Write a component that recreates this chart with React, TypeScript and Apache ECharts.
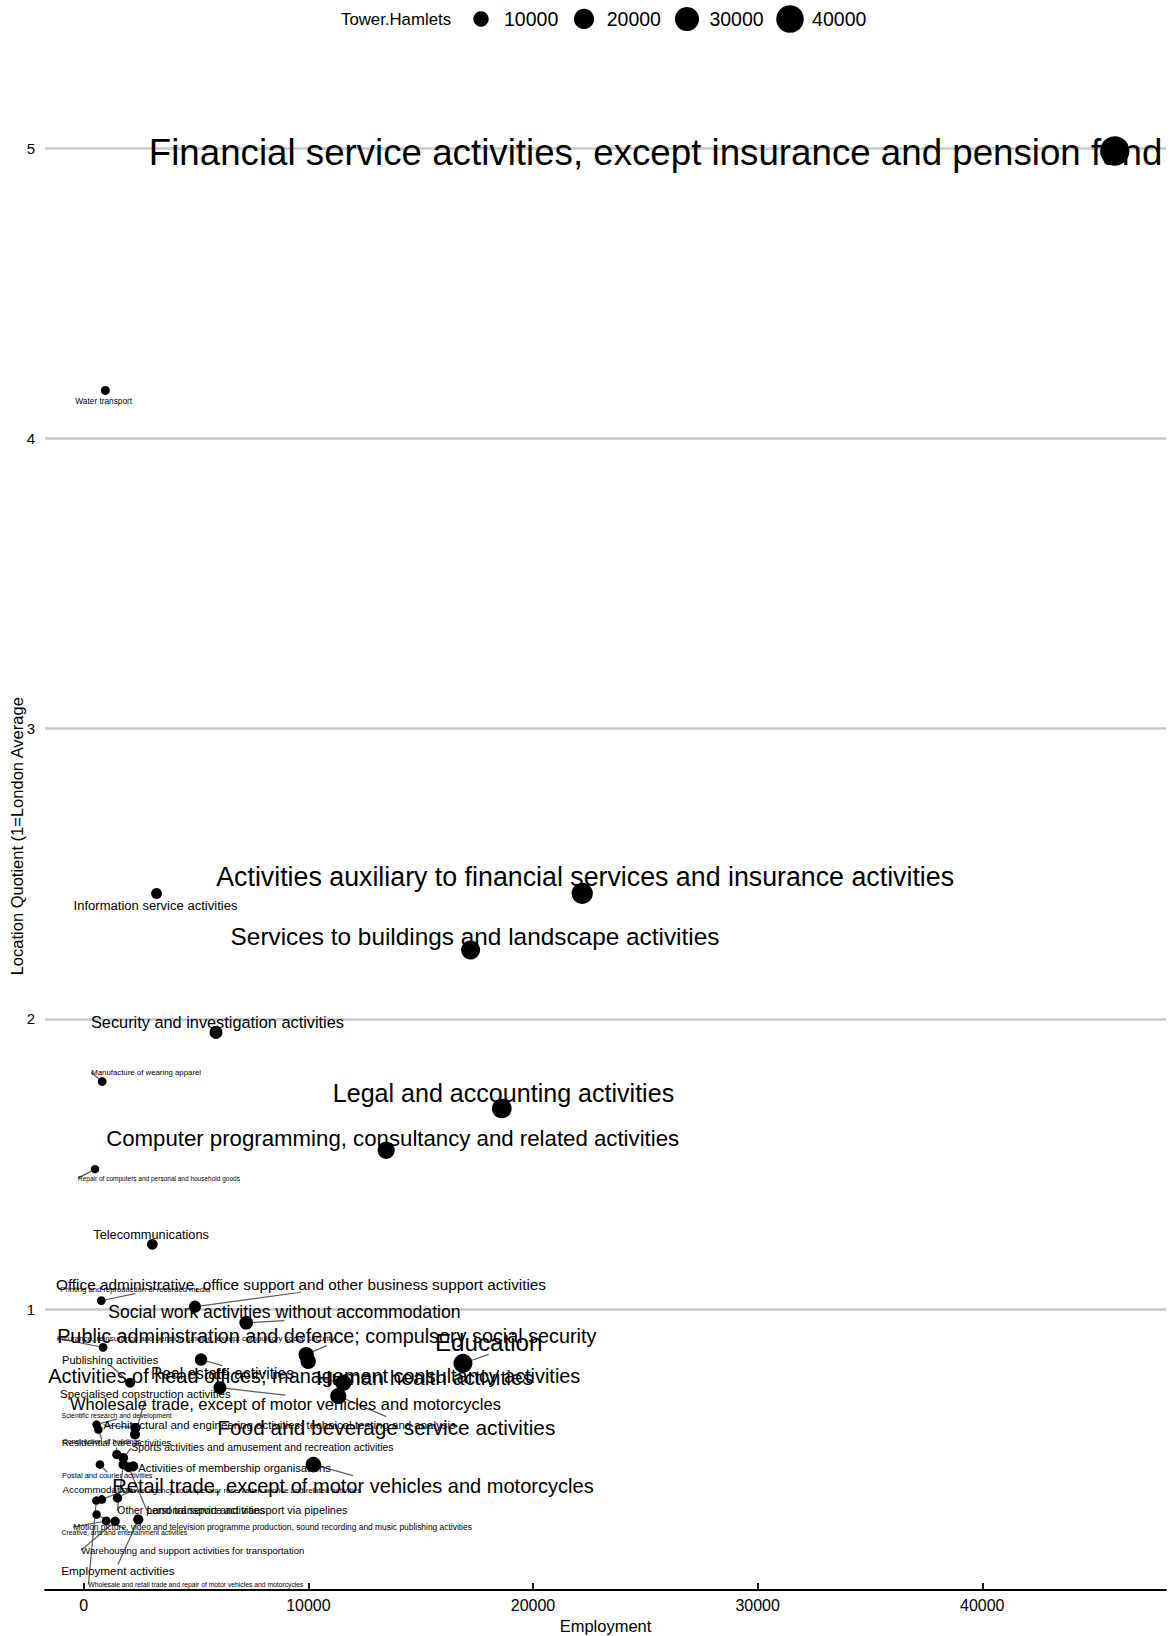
import React, { useEffect, useRef } from "react";
import * as echarts from "echarts";

const industries = [
  "Financial service activities, except insurance and pension funding",
  "Water transport",
  "Information service activities",
  "Activities auxiliary to financial services and insurance activities",
  "Services to buildings and landscape activities",
  "Security and investigation activities",
  "Manufacture of wearing apparel",
  "Legal and accounting activities",
  "Computer programming, consultancy and related activities",
  "Repair of computers and personal and household goods",
  "Telecommunications",
  "Printing and reproduction of recorded media",
  "Office administrative, office support and other business support activities",
  "Social work activities without accommodation",
  "Public administration and defence; compulsory social security",
  "Activities of head offices; management consultancy activities",
  "Education",
  "Human health activities",
  "Food and beverage service activities",
  "Wholesale trade, except of motor vehicles and motorcycles",
  "Real estate activities",
  "Insurance, reinsurance and pension funding, except compulsory social security",
  "Publishing activities",
  "Retail trade, except of motor vehicles and motorcycles",
  "Activities of membership organisations",
  "Specialised construction activities",
  "Scientific research and development",
  "Architectural and engineering activities; technical testing and analysis",
  "Residential care activities",
  "Construction of buildings",
  "Sports activities and amusement and recreation activities",
  "Postal and courier activities",
  "Accommodation",
  "Travel agency, tour operator reservation service and related activities",
  "Other personal service activities",
  "Land transport and transport via pipelines",
  "Creative, arts and entertainment activities",
  "Motion picture, video and television programme production, sound recording and music publishing activities",
  "Warehousing and support activities for transportation",
  "Employment activities",
  "Wholesale and retail trade and repair of motor vehicles and motorcycles",
];

const employment = [
  45900, 960, 3240, 22190, 17220, 5885, 820, 18610, 13460, 500,
  3050, 780, 4950, 7230, 9900, 9990, 16880, 11550, 11330, 6060,
  5220, 860, 2060, 10220, 2200, 2280, 570, 2300, 1470, 650,
  1760, 720, 1500, 800, 1760, 2000, 570, 1000, 1400, 2426,
  560,
];

const locationQuotient = [
  4.99, 4.165, 2.432, 2.432, 2.237, 1.953, 1.784, 1.691, 1.547, 1.482,
  1.223, 1.029, 1.008, 0.953, 0.843, 0.82, 0.813, 0.746, 0.7, 0.729,
  0.826, 0.868, 0.746, 0.464, 0.458, 0.568, 0.602, 0.591, 0.499, 0.585,
  0.487, 0.464, 0.349, 0.344, 0.464, 0.455, 0.292, 0.27, 0.269, 0.275,
  0.34,
];

// repelled label placement: [left edge dx, vertical centre dy] in px relative to the point
const labelOffsets = [
  [-966, 2], [-30, 11], [-83, 12], [-366, -16], [-240, -14], [-125, -10], [-11, -9], [-169, -15], [-280, -12], [-17, 9],
  [-59, -10], [-41, -11], [-139, -22], [-138, -11], [-249, -19], [-260, 15], [-28, -21], [-27, -5], [-121, 31], [-150, 16],
  [-50, 14], [-46, -9], [-68, -23], [-201, 21], [5, 2], [-75, -40], [-35, -9], [-32, -3], [-55, -12], [-36, 13],
  [8, -10], [-38, 11], [-55, -8], [23, -9], [-6, 46], [18, 43], [-35, 18], [-33, 6], [-34, 29], [-77, 51],
  [-8, 84],
];

// labels drawn right beside their point, without a connecting segment
const noSegment = new Set([0, 1, 2, 3, 4, 5, 7, 8, 10]);

const xTicks = [0, 10000, 20000, 30000, 40000];
const yTicks = [1, 2, 3, 4, 5];
const legendValues = [10000, 20000, 30000, 40000];
const legendTitle = "Tower.Hamlets";

const FONT = "'Liberation Sans', Arial, sans-serif";
const GRID = { left: 45, right: 8, top: 82.5, bottom: 46 };
const WIDTH = 1174;
const X_MIN = -1727;
const X_MAX = 48180;
const radius = (v: number) => Math.sqrt(15.6 + 0.00437 * v);
const labelSize = (v: number) =>
  15.72 * Math.pow(v / 5320, 0.373) * (1 + 0.045 * Math.max(0, (v - 22190) / 23710));

export default function App() {
  const ref = useRef<HTMLDivElement>(null);

  useEffect(() => {
    if (!ref.current) return;
    const chart = echarts.init(ref.current, undefined, { renderer: "svg" });

    const panelRight = WIDTH - GRID.right;
    const toPx = (v: number) =>
      GRID.left + ((v - X_MIN) / (X_MAX - X_MIN)) * (WIDTH - GRID.left - GRID.right);

    const data = industries.map((name, i) => {
      const label: any = { fontSize: labelSize(employment[i]) };
      const labelLeft = toPx(employment[i]) + labelOffsets[i][0];
      const room = panelRight - labelLeft;
      if (room < 1100 && i === 0) {
        label.width = room;
        label.overflow = "truncate";
        label.ellipsis = "";
      }
      return {
        name,
        value: [employment[i], locationQuotient[i]],
        label,
        labelLine: { show: !noSegment.has(i) },
      };
    });

    const legendGraphics: any[] = [
      {
        type: "text",
        x: 341,
        y: 19,
        silent: true,
        style: { text: legendTitle, fontSize: 16.8, fontFamily: FONT, fill: "#000", verticalAlign: "middle" },
      },
    ];
    legendValues.forEach((v, i) => {
      legendGraphics.push({
        type: "circle",
        silent: true,
        shape: { cx: 481 + i * 103, cy: 19, r: radius(v) },
        style: { fill: "#000" },
      });
      legendGraphics.push({
        type: "text",
        x: 504 + i * 102.7,
        y: 19,
        silent: true,
        style: { text: String(v), fontSize: 19.5, fontFamily: FONT, fill: "#000", verticalAlign: "middle" },
      });
    });

    chart.setOption({
      animation: false,
      textStyle: { fontFamily: FONT },
      grid: { ...GRID, containLabel: false, outerBoundsMode: "none" },
      xAxis: {
        type: "value",
        min: X_MIN,
        max: X_MAX,
        name: "Employment",
        nameLocation: "middle",
        nameGap: 21,
        nameTextStyle: { fontSize: 16.5, color: "#000" },
        axisLine: { show: true, onZero: false, lineStyle: { color: "#000", width: 1.8 } },
        axisTick: { show: true, inside: true, length: 7, customValues: xTicks, lineStyle: { color: "#000", width: 1.8 } },
        axisLabel: { customValues: xTicks, fontSize: 16, color: "#000", margin: 7, formatter: (v: number) => String(v) },
        splitLine: { show: false },
      },
      yAxis: {
        type: "value",
        min: 0.032,
        max: 5.226,
        name: "Location Quotient (1=London Average",
        nameLocation: "middle",
        nameGap: 20,
        nameMoveOverlap: false,
        nameTextStyle: { fontSize: 16.5, color: "#000" },
        axisLine: { show: false },
        axisTick: { show: false, customValues: yTicks },
        axisLabel: { customValues: yTicks, fontSize: 15, color: "#000", margin: 10 },
        splitLine: { show: true, lineStyle: { color: "#c8c8c8", width: 2.6 } },
      },
      graphic: legendGraphics,
      series: [
        {
          type: "scatter",
          data,
          silent: true,
          symbol: "circle",
          symbolSize: (val: number[]) => 2 * radius(val[0]),
          itemStyle: { color: "#000", opacity: 1 },
          label: {
            show: true,
            position: "inside",
            align: "left",
            verticalAlign: "middle",
            formatter: "{b}",
            color: "#000",
            fontFamily: FONT,
          },
          labelLine: { show: true, lineStyle: { color: "#5a5a5a", width: 1.2 } },
          labelLayout: (params: any) => {
            const off = labelOffsets[params.dataIndex] || [0, 0];
            return { dx: off[0], dy: off[1] };
          },
          emphasis: { disabled: true },
        },
      ],
    });

    return () => chart.dispose();
  }, []);

  return <div ref={ref} style={{ position: "absolute", left: 0, top: 0, width: 1174, height: 1636 }} />;
}
